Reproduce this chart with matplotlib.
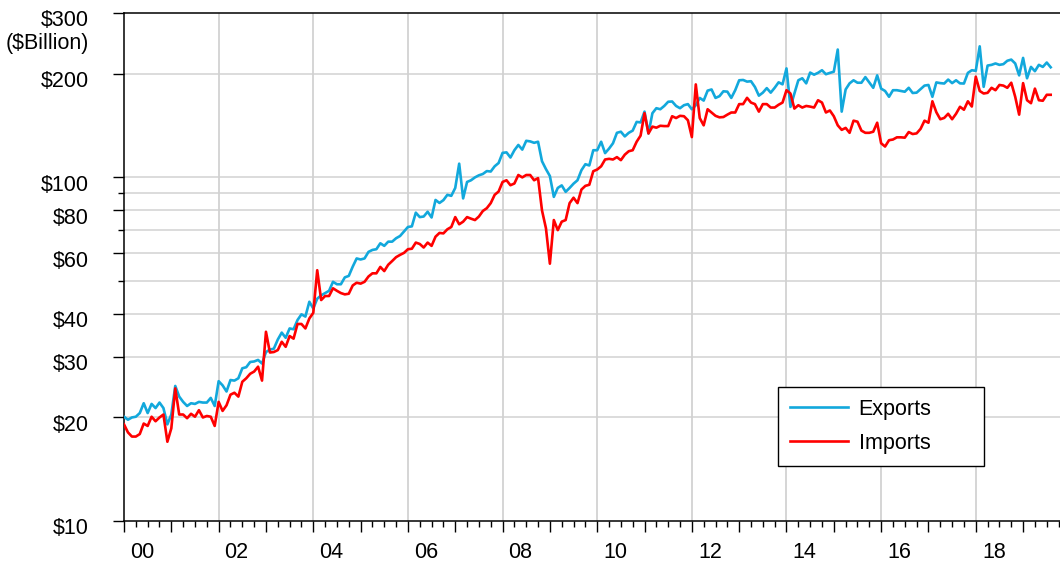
import matplotlib.pyplot as plt
import numpy as np
from matplotlib.ticker import FixedLocator, MultipleLocator, NullFormatter

plt.rcParams['font.family'] = ['Liberation Sans', 'DejaVu Sans']

# monthly values, $ billion, Jan 2000 - Aug 2019
exports = [20.1, 19.7, 20.0, 20.1, 20.6, 22.0, 20.6, 21.9, 21.3, 22.1, 21.3, 19.1,
           20.4, 24.7, 23.0, 22.2, 21.6, 22.0, 21.9, 22.2, 22.1, 22.1, 22.8, 21.6,
           25.5, 24.8, 23.8, 25.7, 25.6, 26.0, 27.8, 28.0, 29.0, 29.1, 29.4, 28.7,
           31.0, 31.5, 31.7, 33.7, 35.3, 34.1, 36.3, 36.1, 38.4, 39.9, 39.3, 43.4,
           41.5, 44.3, 45.3, 46.0, 46.7, 49.6, 48.8, 48.8, 51.1, 51.6, 54.9, 58.0,
           57.6, 58.0, 60.6, 61.4, 61.7, 64.2, 63.1, 64.9, 64.9, 66.4, 67.4, 69.5,
           71.6, 71.9, 78.8, 76.5, 76.8, 79.3, 76.3, 85.8, 84.1, 85.7, 88.8, 88.2,
           93.0, 109.4, 86.7, 96.8, 97.9, 99.8, 101.2, 102.1, 104.1, 103.8, 107.5, 109.9,
           117.6, 118.0, 114.0, 119.7, 124.0, 120.2, 127.5, 127.0, 125.8, 126.7, 111.2, 105.5,
           100.7, 87.6, 93.0, 94.6, 90.6, 93.0, 95.7, 97.9, 104.7, 109.0, 108.1, 119.7,
           119.7, 126.7, 117.4, 121.0, 125.4, 134.5, 135.5, 131.3, 134.5, 136.5, 144.7, 144.2,
           155.0, 133.9, 153.4, 158.6, 157.5, 161.0, 165.6, 165.9, 161.0, 158.6, 161.8, 163.0,
           157.5, 161.8, 169.9, 166.9, 178.4, 179.8, 169.9, 171.9, 177.6, 177.2, 169.9, 178.9,
           191.2, 191.6, 189.5, 190.0, 182.8, 172.5, 176.0, 181.4, 176.0, 181.8, 188.6, 186.1,
           207.0, 160.0, 175.0, 191.2, 193.8, 187.3, 201.3, 198.5, 201.0, 204.5, 199.1, 200.9,
           202.5, 234.9, 155.0, 179.8, 187.3, 191.2, 188.1, 188.1, 195.3, 188.5, 181.8, 197.6,
           180.8, 178.0, 171.2, 178.9, 178.9, 178.0, 177.1, 181.8, 175.6, 176.0, 180.2, 184.5,
           185.3, 171.2, 188.5, 187.6, 187.1, 192.1, 187.6, 191.2, 187.3, 187.1, 200.9, 204.5,
           203.7, 240.0, 183.0, 211.0, 212.0, 214.0, 212.0, 213.0, 217.9, 219.6, 214.0, 197.6,
           222.1, 193.8, 209.1, 203.2, 212.0, 209.1, 215.3, 208.6]
imports = [19.1, 18.1, 17.6, 17.6, 17.9, 19.2, 18.9, 20.1, 19.5, 20.0, 20.4, 17.0,
           18.6, 24.3, 20.4, 20.4, 19.9, 20.5, 20.1, 21.0, 20.0, 20.2, 20.1, 18.9,
           22.2, 20.9, 21.7, 23.3, 23.6, 23.0, 25.4, 26.0, 26.8, 27.2, 28.1, 25.6,
           35.5, 30.9, 31.0, 31.4, 33.2, 32.1, 34.5, 33.9, 37.4, 37.4, 36.3, 38.8,
           40.3, 53.6, 43.9, 45.1, 45.1, 47.5, 46.7, 46.0, 45.6, 45.8, 48.4, 49.3,
           49.0, 49.6, 51.4, 52.5, 52.5, 54.8, 53.3, 55.6, 57.0, 58.5, 59.4, 60.2,
           61.7, 61.9, 64.5, 63.9, 62.4, 64.5, 63.1, 67.1, 68.8, 68.6, 70.5, 71.6,
           76.5, 72.9, 74.2, 76.5, 75.7, 75.0, 76.8, 79.7, 81.2, 84.0, 88.8, 90.8,
           96.8, 97.9, 94.7, 95.8, 101.4, 99.8, 101.4, 101.4, 97.9, 99.3, 80.0, 71.0,
           56.0, 75.0, 70.1, 74.2, 75.0, 84.0, 87.1, 84.0, 92.0, 94.3, 95.0, 104.0,
           105.2, 107.5, 112.5, 113.0, 112.5, 114.3, 112.0, 116.2, 118.9, 119.7, 126.7, 132.0,
           153.4, 133.9, 140.2, 139.2, 141.0, 140.7, 140.7, 150.3, 148.5, 150.7, 150.3, 146.3,
           130.7, 186.0, 148.5, 141.4, 157.5, 154.1, 150.7, 149.2, 149.5, 151.9, 154.1, 154.1,
           163.0, 163.0, 170.0, 164.7, 163.0, 155.0, 163.0, 163.0, 159.3, 159.3, 162.3, 164.7,
           178.9, 175.0, 158.2, 161.8, 159.3, 161.0, 160.3, 159.3, 167.3, 164.7, 154.1, 156.2,
           150.3, 141.4, 137.2, 139.0, 134.5, 145.9, 144.9, 136.5, 134.5, 134.5, 135.5, 143.9,
           125.4, 122.7, 128.0, 128.6, 130.5, 130.5, 130.2, 135.2, 133.4, 134.0, 138.1, 145.9,
           143.9, 166.1, 154.4, 147.3, 148.6, 152.8, 147.3, 152.8, 160.1, 157.0, 166.1, 160.4,
           195.8, 178.0, 175.0, 175.8, 181.8, 178.9, 185.3, 184.5, 181.8, 188.1, 171.2, 151.9,
           187.6, 167.3, 164.0, 180.8, 167.3, 166.7, 173.5, 173.5]

start_year = 2000
months = start_year + np.arange(len(exports)) / 12.0

y_ticks = [10, 20, 30, 40, 60, 80, 100, 200, 300]
y_labels = ['$10', '$20', '$30', '$40', '$60', '$80', '$100', '$200', '$300']
y_minor = [50, 70, 90]
grid_y = [20, 30, 40, 50, 60, 70, 80, 90, 100, 200]
x_labels = ['00', '02', '04', '06', '08', '10', '12', '14', '16', '18']

fs = 15.5

fig = plt.figure(figsize=(10.6, 5.73), dpi=100)
ax = fig.add_axes([124 / 1060, 1 - 521 / 573, 936 / 1060, 508 / 573])

grid_c = '#d2d2d2'
for g in grid_y:
    ax.axhline(g, color=grid_c, lw=1.1, zorder=0)
for i in range(1, len(x_labels)):
    ax.axvline(start_year + 2 * i, color=grid_c, lw=1.3, zorder=0)

ax.plot(months, exports, color='#12a8dc', lw=1.9, label='Exports', zorder=3)
ax.plot(months, imports, color='#ff0000', lw=1.9, label='Imports', zorder=4)

ax.set_yscale('log')
ax.set_ylim(10, 300)
ax.set_xlim(2000, 2019.78)

ax.yaxis.set_major_locator(FixedLocator(y_ticks))
ax.yaxis.set_minor_locator(FixedLocator(y_minor))
ax.yaxis.set_major_formatter(NullFormatter())
ax.yaxis.set_minor_formatter(NullFormatter())
ax.xaxis.set_major_locator(MultipleLocator(1))
ax.xaxis.set_minor_locator(MultipleLocator(0.25))
ax.xaxis.set_major_formatter(NullFormatter())

ax.tick_params(axis='both', which='major', length=8, width=1, direction='out', color='black')
ax.tick_params(axis='both', which='minor', length=4.5, width=1, direction='out', color='black')

for s in ['left', 'bottom', 'top']:
    ax.spines[s].set_linewidth(1.1)
    ax.spines[s].set_color('black')
ax.spines['right'].set_visible(False)

# y labels sit a little below their ticks
for v, lbl in zip(y_ticks, y_labels):
    ax.annotate(lbl, xy=(0, v), xycoords=ax.get_yaxis_transform(),
                xytext=(-35, -8), textcoords='offset pixels',
                ha='right', va='center', fontsize=fs)
fig.text(89 / 1060, 1 - 44 / 573, '($Billion)', ha='right', va='center', fontsize=fs)

for i, lbl in enumerate(x_labels):
    ax.annotate(lbl, xy=(start_year + 2 * i + 0.38, 0), xycoords=ax.get_xaxis_transform(),
                xytext=(0, -32), textcoords='offset pixels',
                ha='center', va='center', fontsize=fs)

leg = ax.legend(loc='upper left', bbox_to_anchor=(0.6987, 0.1083, 0.2201, 0.1555),
                mode='expand', borderaxespad=0, fontsize=fs, handlelength=2.7,
                handletextpad=0.5, labelspacing=0.6, borderpad=0.55, fancybox=False,
                framealpha=1, edgecolor='black')
leg.get_frame().set_linewidth(1.0)

fig.savefig('out.png', dpi=100)
